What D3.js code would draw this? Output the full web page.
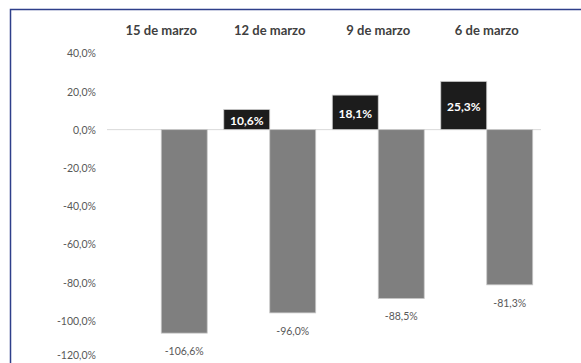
<!DOCTYPE html>
<html>
<head>
<meta charset="utf-8">
<script src="https://cdn.jsdelivr.net/npm/d3@7/dist/d3.min.js"></script>
<style>
  html, body { margin: 0; padding: 0; background: #fff; overflow: hidden; }
  svg { display: block; }
</style>
</head>
<body>
<script>
// Fechas (grupos) y valores de cada serie, en %
const fechas = ["15 de marzo", "12 de marzo", "9 de marzo", "6 de marzo"];
const positivos = [null, 10.6, 18.1, 25.3];
const negativos = [-106.6, -96.0, -88.5, -81.3];
const ticksY = [40, 20, 0, -20, -40, -60, -80, -100, -120];

const W = 581, H = 363;
const fmt = v => d3.format(".1f")(v).replace(".", ",").replace("−", "-") + "%";

const svg = d3.select("body").append("svg").attr("width", W).attr("height", H);

// Marco exterior
svg.append("path")
  .attr("d", `M10.5,${H + 2} V9.5 H${W + 2}`)
  .attr("fill", "none")
  .attr("stroke", "#2e3f8a")
  .attr("stroke-width", 1.5);

const y = d3.scaleLinear().domain([-120, 40]).range([358.7, 53.3]);
const x0 = d3.scaleBand().domain(fechas).range([107, 541]).paddingInner(0).paddingOuter(0);
const x1 = d3.scaleBand().domain(["pos", "neg"]).range([0, x0.bandwidth()]).paddingInner(0).paddingOuter(0.18);

// Etiquetas del eje Y
const yAxis = d3.axisLeft(y).tickValues(ticksY).tickFormat(fmt).tickSize(0).tickPadding(0);
const gy = svg.append("g").attr("transform", "translate(96,0)").call(yAxis);
gy.select(".domain").remove();
gy.selectAll("text")
  .attr("font-family", "Lato, 'Open Sans', sans-serif")
  .attr("font-size", 10.5)
  .attr("fill", "#595959")
  .attr("dy", "0.35em");
// La última etiqueta queda junto al borde inferior: se sube un poco para que no se corte
gy.selectAll(".tick").filter(d => d === -120).select("text").attr("dy", "-0.05em");

// Línea de cero
svg.append("line")
  .attr("x1", 107).attr("x2", 541)
  .attr("y1", y(0)).attr("y2", y(0))
  .attr("stroke", "#d9d9d9").attr("stroke-width", 1);

// Títulos de los grupos
svg.append("g").selectAll("text")
  .data(fechas).join("text")
  .attr("x", d => x0(d) + x0.bandwidth() / 2)
  .attr("y", 34.5)
  .attr("text-anchor", "middle")
  .attr("font-family", "Lato, 'Open Sans', sans-serif")
  .attr("font-weight", "bold")
  .attr("font-size", 13)
  .attr("fill", "#404040")
  .text(d => d);

const grupos = svg.append("g").selectAll("g")
  .data(fechas.map((f, i) => ({ f, pos: positivos[i], neg: negativos[i] })))
  .join("g")
  .attr("transform", d => `translate(${x0(d.f)},0)`);

// Barras negativas (gris)
grupos.append("rect")
  .attr("x", x1("neg"))
  .attr("width", x1.bandwidth())
  .attr("y", y(0))
  .attr("height", d => y(d.neg) - y(0))
  .attr("fill", "#7f7f7f")
  .attr("stroke", "#c8c8c8")
  .attr("stroke-width", 0.8);

grupos.append("text")
  .attr("x", x1("neg") + x1.bandwidth() / 2)
  .attr("y", d => y(d.neg) + 18)
  .attr("dy", "0.35em")
  .attr("text-anchor", "middle")
  .attr("font-family", "Lato, 'Open Sans', sans-serif")
  .attr("font-size", 10.5)
  .attr("fill", "#595959")
  .text(d => fmt(d.neg));

// Barras positivas (negro) con su valor en blanco
const conPos = grupos.filter(d => d.pos != null);
conPos.append("rect")
  .attr("x", x1("pos"))
  .attr("width", x1.bandwidth())
  .attr("y", d => y(d.pos))
  .attr("height", d => y(0) - y(d.pos))
  .attr("fill", "#1c1c1c")
  .attr("stroke", "#d0d0d0")
  .attr("stroke-width", 0.8);

conPos.append("text")
  .attr("x", x1("pos") + x1.bandwidth() / 2)
  .attr("y", d => (y(d.pos) + y(0)) / 2 + 1.5)
  .attr("dy", "0.35em")
  .attr("text-anchor", "middle")
  .attr("font-family", "Lato, 'Open Sans', sans-serif")
  .attr("font-weight", "bold")
  .attr("font-size", 12)
  .attr("fill", "#ffffff")
  .text(d => fmt(d.pos));
</script>
</body>
</html>
